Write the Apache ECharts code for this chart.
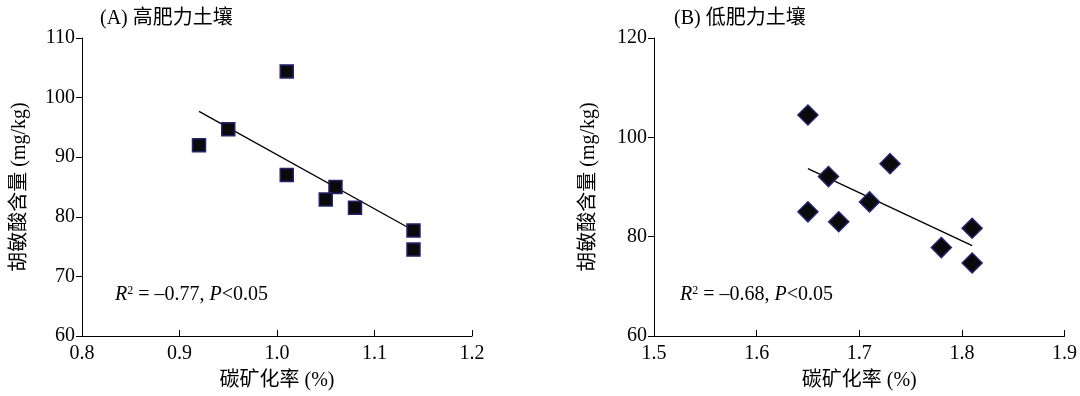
<!DOCTYPE html>
<html>
<head>
<meta charset="utf-8">
<script src="https://cdn.jsdelivr.net/npm/echarts@6/dist/echarts.min.js"></script>
<style>
html,body{margin:0;padding:0;background:#fff;}
#main{width:1080px;height:396px;}
</style>
</head>
<body>
<div id="main"></div>
<script>
// (A) 高肥力土壤
const highX = [0.92, 0.95, 1.01, 1.01, 1.06, 1.05, 1.08, 1.14, 1.14]
const highY = [92.0, 94.7, 104.4, 87.0, 85.0, 82.9, 81.5, 77.7, 74.5]
const highFitX = [0.92, 1.14]
const highFitY = [97.7, 77.7]
// (B) 低肥力土壤
const lowX = [1.65, 1.67, 1.73, 1.71, 1.65, 1.68, 1.81, 1.78, 1.81]
const lowY = [104.5, 92.1, 94.7, 87.0, 85.0, 83.0, 81.7, 77.8, 74.7]
const lowFitX = [1.65, 1.81]
const lowFitY = [93.7, 78.2]
// 刻度 [min, max, interval]
const highXTicks = [0.8, 1.2, 0.1]
const highYTicks = [60, 110, 10]
const lowXTicks = [1.5, 1.9, 0.1]
const lowYTicks = [60, 120, 20]

const FONT = "'Liberation Serif', 'Noto Sans CJK SC', serif"
const FS = 20

function pairs(xs, ys){
    return xs.map((x,i)=>[x, ys[i]])
}

function xAxisOpt(idx, ticks){
    return {
        type:'value', gridIndex:idx,
        min:ticks[0], max:ticks[1], interval:ticks[2],
        name:'碳矿化率 (%)', nameLocation:'middle', nameGap:35,
        nameTextStyle:{fontFamily:FONT, fontSize:FS, color:'#000'},
        axisLine:{show:true, lineStyle:{color:'#000', width:1}},
        axisTick:{show:true, inside:true, length:6, lineStyle:{color:'#000'}},
        axisLabel:{fontFamily:FONT, fontSize:FS, color:'#000', margin:8,
            formatter:(v)=>v.toFixed(1)},
        splitLine:{show:false}
    }
}
function yAxisOpt(idx, ticks, gap){
    return {
        type:'value', gridIndex:idx,
        min:ticks[0], max:ticks[1], interval:ticks[2],
        name:'胡敏酸含量 (mg/kg)', nameLocation:'middle', nameGap:gap,
        nameTextStyle:{fontFamily:FONT, fontSize:FS, color:'#000'},
        axisLine:{show:true, lineStyle:{color:'#000', width:1}},
        axisTick:{show:true, inside:false, length:6, lineStyle:{color:'#000'}},
        axisLabel:{fontFamily:FONT, fontSize:FS, color:'#000', margin:7},
        splitLine:{show:false}
    }
}

const markStyle = {color:'#0a0a0a', borderColor:'#24246e', borderWidth:1.5, opacity:1}
const r2Rich = {
    i:{fontFamily:FONT, fontSize:FS, fontStyle:'italic', fill:'#000'},
    n:{fontFamily:FONT, fontSize:FS, fill:'#000'},
    s:{fontFamily:FONT, fontSize:12, fill:'#000', verticalAlign:'top', padding:[0,0,8,0]}
}

const chart = echarts.init(document.getElementById('main'))
chart.setOption({
    animation:false,
    grid:[
        {left:82, top:38, width:390, height:300},
        {left:654, top:38, width:412, height:300}
    ],
    xAxis:[xAxisOpt(0, highXTicks), xAxisOpt(1, lowXTicks)],
    yAxis:[yAxisOpt(0, highYTicks, 52), yAxisOpt(1, lowYTicks, 55)],
    series:[
        {type:'line', xAxisIndex:0, yAxisIndex:0, data:pairs(highFitX, highFitY),
            symbol:'none', lineStyle:{color:'#000', width:1.3}, z:1},
        {type:'scatter', xAxisIndex:0, yAxisIndex:0, data:pairs(highX, highY),
            symbol:'rect', symbolSize:13, itemStyle:markStyle, z:2},
        {type:'line', xAxisIndex:1, yAxisIndex:1, data:pairs(lowFitX, lowFitY),
            symbol:'none', lineStyle:{color:'#000', width:1.3}, z:1},
        {type:'scatter', xAxisIndex:1, yAxisIndex:1, data:pairs(lowX, lowY),
            symbol:'diamond', symbolSize:20, itemStyle:markStyle, z:2}
    ],
    graphic:[
        {type:'text', left:100, top:9, style:{text:'(A) 高肥力土壤', font:`${FS}px ${FONT}`, fill:'#000'}},
        {type:'text', left:674, top:9, style:{text:'(B) 低肥力土壤', font:`${FS}px ${FONT}`, fill:'#000'}},
        {type:'text', left:115, top:285, style:{
            text:'{i|R}{s|2}{n| = –0.77, }{i|P}{n|<0.05}', rich:r2Rich}},
        {type:'text', left:680, top:285, style:{
            text:'{i|R}{s|2}{n| = –0.68, }{i|P}{n|<0.05}', rich:r2Rich}}
    ]
})
</script>
</body>
</html>
